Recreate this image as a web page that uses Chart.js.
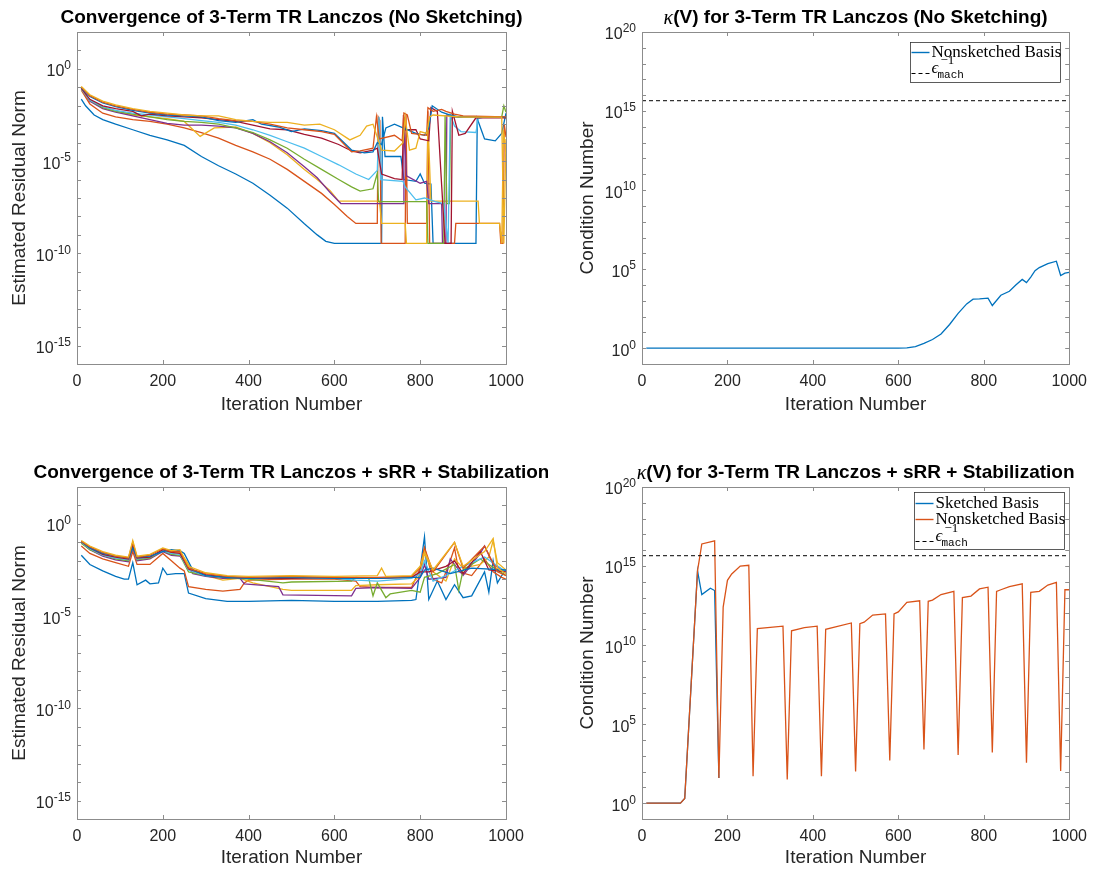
<!DOCTYPE html>
<html>
<head>
<meta charset="utf-8">
<script src="https://cdn.jsdelivr.net/npm/chart.js@4.4.3/dist/chart.umd.min.js"></script>
<style>
  body { margin: 0; background: #fff; width: 1095px; height: 869px; position: relative; overflow: hidden; }
  canvas { position: absolute; }
</style>
</head>
<body>
<canvas id="tl" width="548" height="434" style="left:0;top:0"></canvas>
<canvas id="tr" width="547" height="434" style="left:548px;top:0"></canvas>
<canvas id="bl" width="548" height="435" style="left:0;top:434px"></canvas>
<canvas id="br" width="547" height="435" style="left:548px;top:434px"></canvas>
<script>
const FONT = '"Liberation Sans", Arial, Helvetica, sans-serif';
const SERIF = '"Liberation Serif", "Times New Roman", serif';
const MONO = '"Liberation Mono", "DejaVu Sans Mono", monospace';

const iterTicks = [0, 200, 400, 600, 800, 1000];
const residualExpLabels = [-15, -10, -5, 0];
const kappaExpLabels = [0, 5, 10, 15, 20];
const epsMachInv = 4.5036e15;

const matlabColors = ['#0072BD', '#D95319', '#EDB120', '#7E2F8E', '#77AC30', '#4DBEEE', '#A2142F', '#0072BD', '#D95319', '#EDB120'];

// residual curves, [iteration, log10(residual)]
const tlRes1 = [[10,-1.64],[20,-2.0],[40,-2.5],[60,-2.75],[90,-3.0],[130,-3.3],[170,-3.6],[210,-3.85],[250,-4.15],[290,-4.75],[330,-5.25],[370,-5.7],[410,-6.2],[450,-6.85],[490,-7.55],[530,-8.4],[560,-9.0],[580,-9.35],[600,-9.46],[710,-9.46],[712,-2.6],[718,-4.75],[755,-4.75],[762,-6.0],[790,-6.1],[800,-5.7],[810,-6.2],[825,-6.25],[830,-9.46],[930,-9.46],[933,-2.7],[950,-3.8],[975,-3.9],[990,-3.5],[1000,-2.4]];
const tlRes2 = [[10,-1.15],[30,-1.9],[60,-2.4],[90,-2.6],[130,-2.75],[170,-2.85],[210,-3.0],[250,-3.2],[290,-3.45],[330,-3.75],[370,-4.15],[410,-4.5],[450,-4.9],[490,-5.45],[530,-6.1],[570,-6.75],[600,-7.35],[630,-8.0],[650,-8.38],[700,-8.38],[702,-2.6],[706,-2.8],[709,-9.46],[765,-9.46],[767,-2.5],[770,-8.38],[815,-8.38],[818,-2.3],[822,-9.46],[880,-9.46],[883,-8.38],[985,-8.38],[988,-9.46],[993,-9.46],[996,-3.0],[1000,-3.7]];
const tlRes3 = [[10,-1.1],[30,-1.7],[60,-2.1],[90,-2.3],[130,-2.5],[170,-2.6],[210,-2.7],[250,-2.85],[287,-3.66],[320,-3.2],[370,-3.15],[410,-3.5],[450,-4.0],[490,-4.65],[530,-5.45],[560,-6.0],[590,-6.6],[610,-7.17],[705,-7.17],[710,-8.38],[765,-8.38],[768,-9.46],[815,-9.46],[818,-2.8],[825,-7.17],[935,-7.17],[938,-8.38],[985,-8.38],[990,-9.46],[994,-3.3],[1000,-4.5]];
const tlRes4 = [[10,-1.05],[30,-1.75],[60,-2.15],[90,-2.35],[130,-2.55],[170,-2.75],[210,-2.95],[250,-3.05],[290,-3.05],[330,-3.1],[370,-3.2],[410,-3.5],[450,-3.95],[490,-4.55],[530,-5.3],[560,-5.9],[590,-6.7],[615,-7.3],[760,-7.3],[762,-2.6],[768,-5.8],[800,-6.2],[815,-6.1],[820,-7.3],[850,-7.3],[852,-9.46],[860,-9.46],[862,-2.5],[880,-2.6],[1000,-2.6]];
const tlRes5 = [[10,-1.05],[30,-1.7],[60,-2.1],[90,-2.3],[130,-2.45],[170,-2.6],[210,-2.75],[250,-2.85],[290,-2.9],[330,-3.0],[370,-3.2],[410,-3.45],[450,-3.85],[490,-4.3],[530,-4.9],[570,-5.45],[610,-6.0],[640,-6.4],[660,-6.63],[690,-6.5],[700,-5.65],[703,-7.2],[815,-7.2],[818,-9.46],[855,-9.46],[858,-2.5],[862,-7.3],[868,-7.3],[871,-2.6],[990,-2.6],[995,-2.0],[1000,-2.35]];
const tlRes6 = [[10,-1.1],[30,-1.7],[60,-2.05],[90,-2.25],[130,-2.4],[170,-2.5],[210,-2.6],[250,-2.7],[290,-2.8],[330,-2.9],[370,-3.05],[410,-3.3],[450,-3.6],[490,-3.95],[530,-4.3],[570,-4.75],[610,-5.2],[650,-5.7],[680,-6.0],[700,-5.5],[704,-2.6],[708,-6.0],[760,-6.1],[765,-6.4],[790,-7.1],[810,-7.0],[835,-7.2],[855,-7.3],[865,-9.46],[870,-2.5],[880,-3.1],[895,-3.4],[930,-3.45],[935,-2.7],[950,-2.6],[1000,-2.6]];
const tlRes7 = [[10,-1.05],[30,-1.65],[60,-2.0],[90,-2.15],[130,-2.3],[150,-2.55],[170,-2.45],[210,-2.55],[250,-2.6],[290,-2.65],[330,-2.75],[370,-2.85],[410,-3.05],[450,-3.25],[490,-3.3],[530,-3.55],[570,-3.75],[610,-4.1],[640,-4.45],[660,-4.55],[690,-4.4],[700,-4.3],[710,-5.7],[740,-5.95],[758,-6.0],[761,-2.5],[765,-3.3],[790,-3.3],[800,-3.8],[820,-3.9],[825,-2.1],[840,-2.3],[850,-6.3],[858,-9.46],[872,-9.46],[875,-2.3],[890,-3.6],[905,-3.5],[930,-2.65],[1000,-2.65]];
const tlRes8 = [[10,-1.0],[30,-1.5],[60,-1.85],[90,-2.05],[130,-2.25],[170,-2.4],[210,-2.5],[250,-2.55],[290,-2.6],[330,-2.8],[370,-2.9],[410,-2.75],[430,-3.0],[470,-3.15],[500,-3.4],[530,-3.25],[570,-3.35],[600,-3.5],[640,-4.4],[670,-4.55],[690,-4.5],[700,-4.0],[710,-4.1],[720,-3.2],[740,-3.0],[760,-3.2],[790,-3.5],[810,-3.6],[820,-3.2],[828,-2.0],[850,-2.35],[870,-2.5],[890,-2.6],[1000,-2.62]];
const tlRes9 = [[10,-0.98],[30,-1.45],[60,-1.8],[90,-2.0],[130,-2.2],[170,-2.35],[210,-2.45],[250,-2.5],[290,-2.55],[330,-2.7],[370,-2.8],[410,-2.85],[450,-3.0],[490,-3.2],[530,-3.3],[570,-3.4],[600,-3.55],[640,-4.5],[660,-4.45],[690,-4.3],[698,-2.6],[705,-3.8],[740,-3.6],[758,-3.9],[762,-2.4],[770,-2.5],[780,-3.5],[815,-3.6],[818,-2.1],[830,-2.3],[850,-2.2],[860,-2.3],[880,-2.45],[900,-2.55],[1000,-2.6]];
const tlRes10 = [[10,-0.95],[30,-1.4],[60,-1.75],[90,-1.95],[130,-2.15],[170,-2.3],[210,-2.4],[250,-2.5],[290,-2.55],[330,-2.55],[370,-2.75],[410,-2.85],[450,-2.9],[490,-2.9],[530,-3.05],[566,-3.0],[600,-3.3],[636,-3.85],[660,-3.6],[675,-3.1],[690,-3.0],[700,-3.7],[710,-4.4],[740,-4.45],[760,-4.0],[765,-2.6],[775,-4.4],[790,-4.3],[800,-3.4],[815,-3.5],[822,-2.6],[830,-2.5],[900,-2.62],[990,-2.62],[995,-9.46],[1000,-3.8]];

const blRes1 = [[10,-1.7],[30,-2.2],[60,-2.55],[90,-2.85],[110,-3.0],[120,-3.0],[130,-2.1],[140,-3.3],[160,-3.05],[170,-3.25],[190,-3.2],[200,-2.4],[210,-2.75],[230,-2.7],[250,-2.7],[260,-3.75],[300,-4.05],[350,-4.2],[400,-4.2],[500,-4.15],[600,-4.2],[700,-4.2],[780,-4.15],[790,-4.1],[810,-0.7],[820,-4.1],[840,-3.1],[860,-4.1],[880,-3.3],[900,-4.0],[920,-3.9],[950,-2.6],[960,-3.7],[970,-2.0],[980,-3.2],[990,-2.8],[1000,-2.5]];
const blRes2 = [[10,-1.2],[30,-1.6],[60,-1.9],[90,-2.1],[120,-2.3],[130,-1.5],[140,-2.2],[170,-2.2],[200,-1.6],[220,-2.0],[240,-2.4],[250,-2.55],[260,-3.4],[300,-3.55],[340,-3.65],[380,-3.55],[390,-3.2],[400,-3.05],[500,-3.0],[600,-3.0],[650,-3.1],[660,-3.4],[700,-3.45],[780,-3.45],[800,-2.4],[810,-1.3],[830,-3.0],[850,-3.2],[870,-2.0],[880,-1.3],[890,-2.6],[920,-2.8],[950,-1.9],[970,-2.6],[990,-2.9],[1000,-3.0]];
const blRes3 = [[10,-1.05],[30,-1.35],[60,-1.65],[90,-1.85],[120,-2.0],[130,-1.0],[140,-1.95],[170,-1.85],[200,-1.4],[220,-1.6],[240,-1.55],[255,-2.0],[270,-2.6],[300,-2.8],[340,-3.05],[380,-2.95],[410,-3.2],[480,-3.55],[500,-3.6],[640,-3.6],[650,-3.35],[700,-3.3],[780,-3.25],[800,-2.8],[810,-1.6],[830,-2.6],[860,-3.1],[880,-1.9],[900,-2.4],[940,-2.2],[960,-1.8],[970,-0.9],[980,-2.1],[1000,-2.5]];
const blRes4 = [[10,-1.0],[30,-1.4],[60,-1.75],[90,-1.95],[120,-2.05],[130,-1.3],[140,-2.0],[170,-1.9],[200,-1.5],[220,-1.7],[240,-1.75],[255,-2.2],[270,-2.7],[300,-2.85],[340,-2.95],[380,-2.95],[390,-3.25],[470,-3.4],[480,-3.85],[640,-3.9],[650,-3.5],[700,-3.45],[780,-3.5],[800,-2.9],[810,-2.2],[820,-3.0],[860,-2.9],[870,-1.9],[900,-2.8],[940,-1.6],[950,-1.2],[970,-2.2],[1000,-2.6]];
const blRes5 = [[10,-1.05],[30,-1.4],[60,-1.7],[90,-1.9],[120,-2.0],[130,-1.2],[140,-1.95],[170,-1.85],[200,-1.45],[220,-1.65],[240,-1.7],[260,-2.6],[300,-2.8],[340,-2.9],[400,-3.0],[480,-3.2],[500,-3.15],[640,-3.1],[650,-2.9],[680,-2.95],[690,-3.9],[700,-3.2],[720,-4.0],[730,-3.8],[780,-3.6],[800,-3.7],[810,-2.9],[840,-2.7],[880,-2.2],[890,-3.6],[900,-2.5],[940,-1.9],[1000,-2.8]];
const blRes6 = [[10,-1.0],[30,-1.35],[60,-1.7],[90,-1.85],[120,-1.95],[130,-1.1],[140,-1.9],[170,-1.8],[200,-1.45],[220,-1.6],[240,-1.65],[260,-2.5],[300,-2.8],[350,-2.9],[400,-2.95],[500,-2.9],[600,-2.95],[650,-3.05],[700,-3.1],[780,-2.95],[800,-2.7],[810,-2.0],[830,-3.1],[860,-2.8],[900,-2.3],[950,-1.8],[1000,-2.6]];
const blRes7 = [[10,-0.95],[30,-1.3],[60,-1.65],[90,-1.8],[120,-1.9],[130,-1.2],[140,-1.85],[170,-1.8],[200,-1.4],[220,-1.55],[240,-1.6],[260,-2.45],[300,-2.75],[350,-2.9],[400,-2.95],[500,-2.95],[600,-2.9],[700,-2.95],[780,-2.9],[800,-2.6],[820,-2.6],[860,-2.3],[880,-2.0],[900,-2.7],[940,-1.5],[960,-2.5],[1000,-2.6]];
const blRes8 = [[10,-0.95],[30,-1.3],[60,-1.6],[90,-1.75],[120,-1.85],[130,-1.3],[140,-1.8],[170,-1.75],[200,-1.5],[220,-1.4],[240,-1.45],[250,-1.6],[270,-2.5],[300,-2.8],[350,-2.9],[400,-2.95],[500,-2.9],[600,-2.95],[700,-2.95],[780,-2.9],[800,-2.9],[810,-2.5],[830,-2.4],[870,-2.7],[920,-2.4],[1000,-2.5]];
const blRes9 = [[10,-0.95],[30,-1.25],[60,-1.55],[90,-1.75],[120,-1.85],[130,-1.0],[140,-1.8],[170,-1.7],[200,-1.35],[220,-1.5],[240,-1.5],[260,-2.4],[300,-2.7],[350,-2.85],[400,-2.9],[500,-2.85],[600,-2.9],[700,-2.9],[780,-2.85],[800,-2.4],[810,-1.3],[830,-2.6],[880,-1.0],[900,-2.4],[950,-1.2],[980,-2.6],[1000,-2.8]];
const blRes10 = [[10,-0.9],[30,-1.2],[60,-1.5],[90,-1.7],[120,-1.8],[130,-0.9],[140,-1.75],[170,-1.65],[200,-1.3],[220,-1.45],[240,-1.4],[260,-2.3],[300,-2.65],[350,-2.8],[400,-2.85],[500,-2.8],[600,-2.85],[700,-2.8],[710,-2.4],[720,-2.85],[780,-2.8],[800,-2.3],[810,-1.5],[830,-2.5],[880,-1.0],[900,-2.3],[950,-1.5],[970,-0.8],[980,-2.4],[1000,-2.7]];

// condition numbers, [iteration, log10(kappa)]
const trKappa = [[10,0],[600,0],[620,0.02],[640,0.1],[660,0.3],[680,0.55],[700,0.9],[720,1.5],[740,2.2],[760,2.8],[775,3.1],[790,3.12],[810,3.17],[820,2.7],[840,3.35],[860,3.6],[875,4.0],[890,4.35],[900,4.15],[910,4.5],[920,4.9],[930,5.1],[950,5.35],[970,5.5],[980,4.6],[990,4.75],[1000,4.8]];
const brNonsketched = [[10,0],[90,0],[100,0.3],[130,14.7],[140,16.4],[170,16.6],[180,1.6],[190,12.4],[200,14.1],[210,14.5],[230,15.0],[250,15.05],[260,1.7],[270,11.05],[330,11.2],[340,1.5],[350,10.9],[380,11.1],[410,11.2],[420,1.7],[430,11.0],[490,11.4],[500,2.0],[510,11.35],[520,11.45],[540,11.9],[570,11.97],[580,2.7],[590,11.97],[600,12.1],[620,12.7],[650,12.8],[660,3.4],[670,12.77],[680,12.85],[700,13.2],[730,13.4],[740,3.05],[750,13.0],[770,13.1],[790,13.55],[810,13.66],[820,3.2],[830,13.4],[840,13.5],[860,13.7],[890,13.87],[900,2.56],[910,13.34],[930,13.4],[950,13.8],[970,13.97],[980,2.04],[990,13.5],[1000,13.5]];
// the sketched basis is hidden under the nonsketched one after the first dip
const brSketched = [[10,0],[90,0],[100,0.3],[130,14.7],[140,13.2],[160,13.6],[170,13.45],[180,1.6]];

function toPoints(pairs) {
    return pairs.map(([it, e]) => ({ x: it, y: 10 ** e }));
}

function lineSet(pairs, color, order) {
    return {
        data: toPoints(pairs),
        borderColor: color,
        borderWidth: 1.3,
        pointRadius: 0,
        tension: 0,
        fill: false,
        order: order
    };
}

function epsSet(order) {
    return {
        data: [{ x: 0, y: epsMachInv }, { x: 1000, y: epsMachInv }],
        borderColor: '#000',
        borderWidth: 1,
        borderDash: [4, 3],
        pointRadius: 0,
        fill: false,
        order: order
    };
}

// MATLAB-like box, inward ticks, superscript tick labels, title and legend
const matlabAxes = {
    id: 'matlabAxes',
    afterDatasetsDraw(chart, args, opts) {
        const { ctx, chartArea: a } = chart;
        const xs = chart.scales.x, ys = chart.scales.y;
        ctx.save();
        ctx.strokeStyle = '#8c8c8c';
        ctx.lineWidth = 1;
        ctx.beginPath();
        iterTicks.forEach(v => {
            const px = Math.round(xs.getPixelForValue(v)) + 0.5;
            ctx.moveTo(px, a.bottom); ctx.lineTo(px, a.bottom - 4);
            ctx.moveTo(px, a.top); ctx.lineTo(px, a.top + 4);
        });
        for (let e = opts.minorFrom; e <= opts.minorTo; e++) {
            const py = Math.round(ys.getPixelForValue(10 ** e)) + 0.5;
            ctx.moveTo(a.left, py); ctx.lineTo(a.left + 4, py);
            ctx.moveTo(a.right, py); ctx.lineTo(a.right - 4, py);
        }
        ctx.stroke();
        ctx.strokeRect(Math.round(a.left) + 0.5, Math.round(a.top) + 0.5, Math.round(a.width), Math.round(a.height));
        ctx.restore();
    },
    afterDraw(chart, args, opts) {
        const { ctx, chartArea: a } = chart;
        const ys = chart.scales.y;
        ctx.save();

        ctx.fillStyle = '#262626';
        ctx.textAlign = 'right';
        ctx.textBaseline = 'middle';
        opts.labelExps.forEach(e => {
            const py = ys.getPixelForValue(10 ** e);
            ctx.font = `12px ${FONT}`;
            const sup = String(e);
            const supW = ctx.measureText(sup).width;
            ctx.fillText(sup, a.left - 6, py - 3);
            ctx.font = `16px ${FONT}`;
            ctx.fillText('10', a.left - 6 - supW, py + 3);
        });

        // title, centred over the plot box
        ctx.fillStyle = '#000';
        ctx.textAlign = 'left';
        const cx = (a.left + a.right) / 2;
        ctx.font = `bold 19px ${FONT}`;
        const w2 = ctx.measureText(opts.title).width;
        let w1 = 0;
        if (opts.titlePrefix) {
            ctx.font = `italic 20px ${SERIF}`;
            w1 = ctx.measureText(opts.titlePrefix).width;
        }
        const x0 = cx - (w1 + w2) / 2;
        if (opts.titlePrefix) {
            ctx.font = `italic 20px ${SERIF}`;
            ctx.fillText(opts.titlePrefix, x0, opts.titleY + 1);
        }
        ctx.font = `bold 19px ${FONT}`;
        ctx.fillText(opts.title, x0 + w1, opts.titleY);

        const lg = opts.legend;
        if (lg) {
            const bx = Math.round(a.right - lg.right - lg.width) + 0.5;
            const by = Math.round(a.top + lg.top) + 0.5;
            ctx.fillStyle = '#fff';
            ctx.fillRect(bx, by, lg.width, lg.height);
            ctx.strokeStyle = '#333';
            ctx.lineWidth = 0.8;
            ctx.strokeRect(bx, by, lg.width, lg.height);
            lg.items.forEach((item, i) => {
                const ry = by + lg.rows[i];
                ctx.beginPath();
                ctx.lineWidth = item.eps ? 1 : 1.4;
                ctx.strokeStyle = item.color;
                ctx.setLineDash(item.eps ? [4, 3] : []);
                ctx.moveTo(bx + 1, ry);
                ctx.lineTo(bx + 19, ry);
                ctx.stroke();
                ctx.setLineDash([]);
                ctx.fillStyle = '#000';
                ctx.textAlign = 'left';
                if (item.eps) {
                    ctx.textBaseline = 'alphabetic';
                    ctx.font = `italic 17px ${SERIF}`;
                    ctx.fillText('\u03F5', bx + 21, ry - 1);
                    ctx.font = `13px ${SERIF}`;
                    ctx.fillText('\u22121', bx + 30, ry - 10);
                    ctx.font = `11px ${MONO}`;
                    ctx.fillText('mach', bx + 27, ry + 4);
                } else {
                    ctx.textBaseline = 'middle';
                    ctx.font = `17px ${SERIF}`;
                    ctx.fillText(item.label, bx + 21, ry);
                }
            });
        }
        ctx.restore();
    }
};

function makeChart(id, datasets, cfg) {
    return new Chart(document.getElementById(id), {
        type: 'line',
        data: { datasets },
        plugins: [matlabAxes],
        options: {
            responsive: false,
            animation: false,
            devicePixelRatio: 1,
            layout: { padding: { top: cfg.padTop, right: cfg.padRight, left: 0, bottom: 0 } },
            plugins: {
                legend: { display: false },
                title: { display: false },
                tooltip: { enabled: false },
                matlabAxes: cfg.axes
            },
            scales: {
                x: {
                    type: 'linear',
                    min: 0,
                    max: 1000,
                    grid: { display: false, drawTicks: false },
                    border: { display: false },
                    ticks: {
                        stepSize: 200, color: '#262626', font: { family: FONT, size: 16 }, padding: 8,
                        maxRotation: 0, autoSkip: false,
                        callback: v => String(v)
                    },
                    title: { display: true, text: 'Iteration Number', color: '#262626', font: { family: FONT, size: 19 }, padding: { top: 0, bottom: cfg.xTitlePad } },
                    afterFit: s => { s.height = cfg.xHeight; }
                },
                y: {
                    type: 'logarithmic',
                    min: cfg.yMin,
                    max: cfg.yMax,
                    grid: { display: false, drawTicks: false },
                    border: { display: false },
                    ticks: { display: false },
                    title: { display: true, text: cfg.yTitle, color: '#262626', font: { family: FONT, size: 19 }, padding: { top: cfg.yTitlePad, bottom: 0 } },
                    afterFit: s => { s.width = cfg.yWidth; }
                }
            }
        }
    });
}

const tlSeries = [tlRes1, tlRes2, tlRes3, tlRes4, tlRes5, tlRes6, tlRes7, tlRes8, tlRes9, tlRes10];
const blSeries = [blRes1, blRes2, blRes3, blRes4, blRes5, blRes6, blRes7, blRes8, blRes9, blRes10];

makeChart('tl', tlSeries.map((s, i) => lineSet(s, matlabColors[i], 10 - i)), {
    padTop: 32, padRight: 42, xHeight: 70, xTitlePad: 18, yWidth: 77, yTitlePad: 8,
    yMin: 1e-16, yMax: 1e2, yTitle: 'Estimated Residual Norm',
    axes: { minorFrom: -16, minorTo: 2, labelExps: residualExpLabels, titleY: 18,
            title: 'Convergence of 3-Term TR Lanczos (No Sketching)' }
});

makeChart('tr', [lineSet(trKappa, matlabColors[0], 2), epsSet(1)], {
    padTop: 32, padRight: 23, xHeight: 70, xTitlePad: 18, yWidth: 94, yTitlePad: 28,
    yMin: 1e-1, yMax: 1e20, yTitle: 'Condition Number',
    axes: { minorFrom: -1, minorTo: 20, labelExps: kappaExpLabels, titleY: 18,
            titlePrefix: '\u03BA', title: '(V) for 3-Term TR Lanczos (No Sketching)',
            legend: { right: 9, top: 10, width: 150, height: 40, rows: [10, 31],
                      items: [{ color: matlabColors[0], label: 'Nonsketched Basis' }, { color: '#000', eps: true }] } }
});

makeChart('bl', blSeries.map((s, i) => lineSet(s, matlabColors[i], 10 - i)), {
    padTop: 53, padRight: 42, xHeight: 50, xTitlePad: 0, yWidth: 77, yTitlePad: 8,
    yMin: 1e-16, yMax: 1e2, yTitle: 'Estimated Residual Norm',
    axes: { minorFrom: -16, minorTo: 2, labelExps: residualExpLabels, titleY: 39,
            title: 'Convergence of 3-Term TR Lanczos + sRR + Stabilization' }
});

makeChart('br', [lineSet(brSketched, matlabColors[0], 3), lineSet(brNonsketched, matlabColors[1], 2), epsSet(1)], {
    padTop: 53, padRight: 23, xHeight: 50, xTitlePad: 0, yWidth: 94, yTitlePad: 28,
    yMin: 1e-1, yMax: 1e20, yTitle: 'Condition Number',
    axes: { minorFrom: -1, minorTo: 20, labelExps: kappaExpLabels, titleY: 39,
            titlePrefix: '\u03BA', title: '(V) for 3-Term TR Lanczos + sRR + Stabilization',
            legend: { right: 5, top: 5, width: 150, height: 57, rows: [11, 27, 49],
                      items: [{ color: matlabColors[0], label: 'Sketched Basis' }, { color: matlabColors[1], label: 'Nonsketched Basis' }, { color: '#000', eps: true }] } }
});
</script>
</body>
</html>
